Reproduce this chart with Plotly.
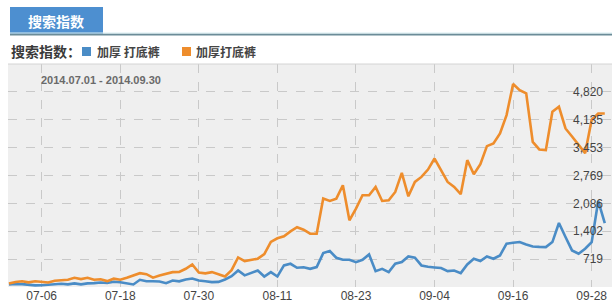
import plotly.graph_objects as go
import pandas as pd

dates = pd.date_range("2014-07-01", "2014-09-30", freq="D")

series_blue_name = "加厚 打底裤"
series_orange_name = "加厚打底裤"

blue = [95, 110, 105, 90, 75, 80, 90, 105, 115, 100,
        125, 100, 125, 130, 145, 135, 165, 150, 130, 97,
        212, 175, 175, 170, 130, 195, 175, 220, 245, 195,
        178, 155, 160, 220, 300, 440, 320, 380, 441, 293,
        399, 293, 564, 605, 507, 520, 480, 523, 866, 916,
        753, 704, 704, 646, 704, 834, 424, 482, 400, 605,
        646, 785, 753, 564, 530, 515, 500, 424, 441, 375,
        590, 728, 671, 785, 728, 810, 1097, 1120, 1137, 1080,
        1030, 1020, 1014, 1137, 1604, 1260, 932, 851, 974, 1137,
        2146, 1604]

orange = [120, 160, 175, 150, 175, 165, 145, 190, 200, 215,
          260, 230, 262, 212, 225, 180, 240, 215, 265, 320,
          375, 350, 265, 318, 360, 400, 405, 482, 590, 390,
          370, 400, 350, 293, 450, 760, 670, 700, 730, 840,
          1140, 1230, 1280, 1400, 1500, 1441, 1343, 1343, 2203, 2146,
          2203, 2530, 1670, 1957, 2285, 2285, 2490, 2146, 2162, 2366,
          2833, 2260, 2612, 2735, 2915, 3186, 2899, 2612, 2490, 2310,
          3146, 2801, 3047, 3489, 3555, 3800, 4250, 5012, 4863, 4782,
          3594, 3408, 3392, 4331, 4454, 3922, 3727, 3513, 3318, 4138,
          4290, 4290]

x_tick_dates = ["2014-07-06", "2014-07-18", "2014-07-30", "2014-08-11",
                "2014-08-23", "2014-09-04", "2014-09-16", "2014-09-28"]
x_tick_text = ["07-06", "07-18", "07-30", "08-11", "08-23", "09-04", "09-16", "09-28"]
y_tick_vals = [719, 1402, 2086, 2769, 3453, 4135, 4820]
y_tick_text = ["719", "1,402", "2,086", "2,769", "3,453", "4,135", "4,820"]
y_range = [35.5, 5503.5]

BLUE = "#4a8cc6"
ORANGE = "#ee8d2c"
W, H = 612, 308
L, R, T, B = 8, 0, 64, 21
pw, ph = W - L - R, H - T - B


def px(x):
    return (x - L) / pw


def py(y):
    return (H - B - y) / ph


fig = go.Figure()
fig.add_trace(go.Scatter(x=dates, y=blue, mode="lines", name=series_blue_name,
                         line=dict(color=BLUE, width=2.6), showlegend=False))
fig.add_trace(go.Scatter(x=dates, y=orange, mode="lines", name=series_orange_name,
                         line=dict(color=ORANGE, width=2.6), showlegend=False))

shapes = [
    dict(type="rect", xref="paper", yref="paper", x0=px(10), x1=px(103), y0=py(35), y1=py(7),
         fillcolor="#4d8fd0", line=dict(width=0), layer="above"),
    dict(type="line", xref="paper", yref="paper", x0=px(10), x1=px(612), y0=py(34.5), y1=py(34.5),
         line=dict(color="#6b8c98", width=2)),
    dict(type="line", xref="paper", yref="paper", x0=px(10), x1=px(612), y0=py(33), y1=py(33),
         line=dict(color="#d8eef2", width=1)),
    dict(type="rect", xref="paper", yref="paper", x0=px(82), x1=px(91), y0=py(56), y1=py(47),
         fillcolor=BLUE, line=dict(width=0)),
    dict(type="rect", xref="paper", yref="paper", x0=px(182), x1=px(191), y0=py(56), y1=py(47),
         fillcolor=ORANGE, line=dict(width=0)),
    dict(type="line", xref="paper", yref="paper", x0=0, x1=1, y0=1, y1=1,
         line=dict(color="#d4d4d4", width=1)),
]

annotations = [
    dict(text="<b>搜索指数</b>", xref="paper", yref="paper", x=px(56), y=py(21),
         xanchor="center", yanchor="middle", showarrow=False,
         font=dict(family="Noto Sans CJK SC", size=14, color="white")),
    dict(text="<b>搜索指数：</b>", xref="paper", yref="paper", x=px(9), y=py(51),
         xanchor="left", yanchor="middle", showarrow=False,
         font=dict(family="Noto Sans CJK SC", size=14, color="#3a3a3a")),
    dict(text="<b>" + series_blue_name + "</b>", xref="paper", yref="paper", x=px(95), y=py(51.5),
         xanchor="left", yanchor="middle", showarrow=False,
         font=dict(family="Noto Sans CJK SC", size=12, color="#444444")),
    dict(text="<b>" + series_orange_name + "</b>", xref="paper", yref="paper", x=px(194), y=py(51.5),
         xanchor="left", yanchor="middle", showarrow=False,
         font=dict(family="Noto Sans CJK SC", size=12, color="#444444")),
    dict(text="<b>2014.07.01 - 2014.09.30</b>", xref="paper", yref="paper", x=px(39), y=py(80),
         xanchor="left", yanchor="middle", showarrow=False,
         font=dict(family="Liberation Sans", size=11, color="#6a6a6a")),
]

fig.update_layout(
    width=W, height=H,
    margin=dict(l=L, r=R, t=T, b=B, pad=0),
    paper_bgcolor="white",
    plot_bgcolor="#efefef",
    shapes=shapes,
    annotations=annotations,
    xaxis=dict(
        type="date",
        range=["2014-06-30 20:30", "2014-10-01 02:30"],
        tickvals=x_tick_dates, ticktext=x_tick_text,
        showgrid=True, gridcolor="#c9c9c9", griddash="dash", gridwidth=1,
        zeroline=False, showline=False, ticks="",
        ticklabeloverflow="allow",
        tickfont=dict(family="Liberation Sans", size=12, color="#444444"),
        fixedrange=True,
    ),
    yaxis=dict(
        range=y_range, side="right",
        tickvals=y_tick_vals, ticktext=y_tick_text,
        ticklabelposition="inside",
        ticklabelstandoff=6,
        ticklabeloverflow="allow",
        showgrid=True, gridcolor="#c9c9c9", griddash="dash", gridwidth=1,
        zeroline=False, showline=False, ticks="",
        tickfont=dict(family="Liberation Sans", size=12, color="#444444"),
        fixedrange=True,
    ),
    showlegend=False,
)

fig.write_html("out.html")
